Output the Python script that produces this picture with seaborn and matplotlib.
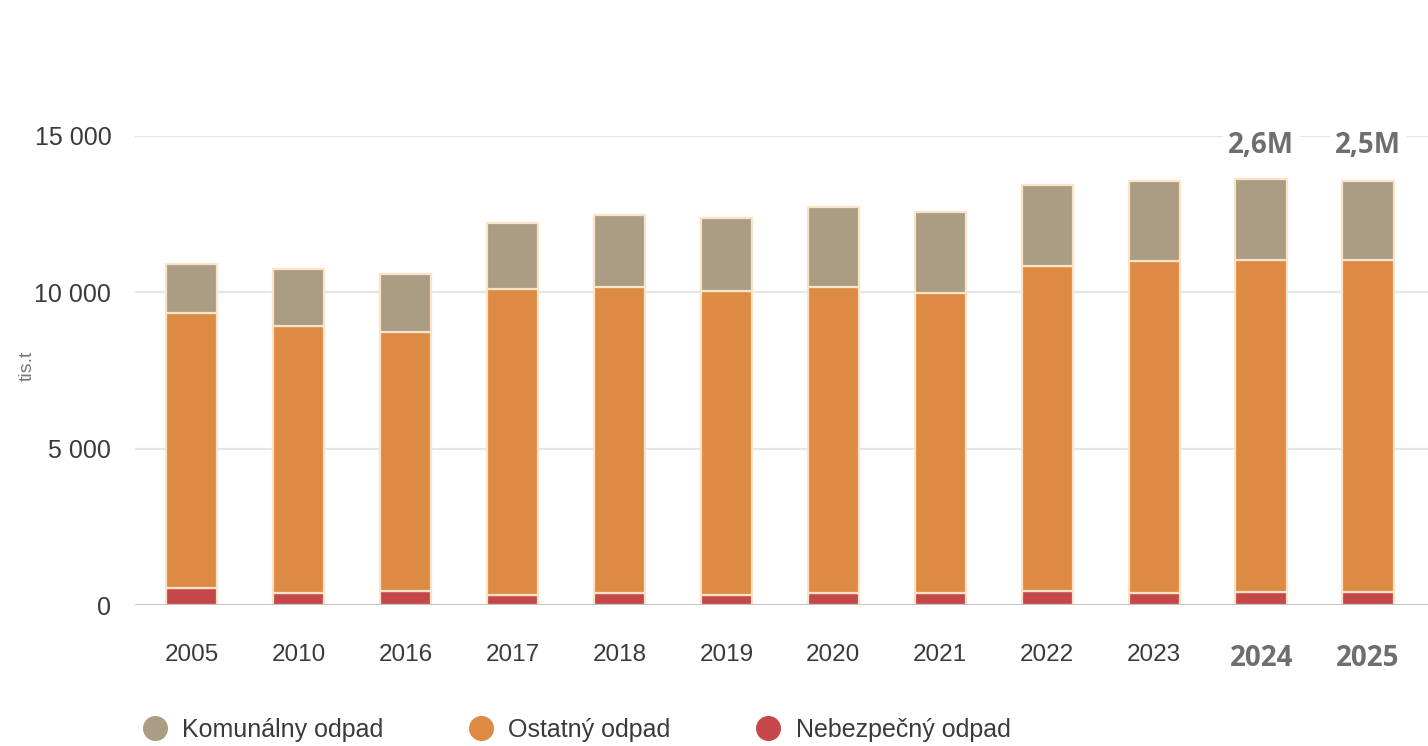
import numpy as np
import pandas as pd
import matplotlib
matplotlib.use("Agg")
import matplotlib.pyplot as plt
from matplotlib.lines import Line2D
import seaborn as sns

# data (tis. t)
years = ["2005", "2010", "2016", "2017", "2018", "2019", "2020", "2021", "2022", "2023", "2024", "2025"]
nebezpecny = [540, 395, 457, 320, 373, 320, 395, 373, 457, 373, 400, 400]
ostatny = [8798, 8538, 8283, 9785, 9807, 9732, 9785, 9597, 10393, 10637, 10640, 10630]
komunalny = [1567, 1812, 1855, 2101, 2292, 2314, 2560, 2610, 2580, 2550, 2580, 2530]
yticks = [0, 5000, 10000, 15000]
ytick_labels = ["0", "5 000", "10 000", "15 000"]
notes = {"2024": "2,6M", "2025": "2,5M"}

c_kom = "#ab9c84"
c_ost = "#dd8a45"
c_neb = "#c4474a"
sep = "#fbe3c8"

df = pd.DataFrame({"rok": years, "neb": nebezpecny, "ost": ostatny, "kom": komunalny})
df["b_ost"] = df["neb"]
df["b_kom"] = df["neb"] + df["ost"]

sns.set_style("white")
plt.rcParams["font.family"] = ["Liberation Sans", "DejaVu Sans"]

fig = plt.figure(figsize=(14.28, 7.46), dpi=100)
ax = fig.add_axes([0.0945, 0.189, 0.9055, 0.6287])

w = 0.48
kw = dict(x="rok", width=w, saturation=1, edgecolor=sep, linewidth=1.6, ax=ax, zorder=3)
sns.barplot(data=df, y="neb", color=c_neb, **kw)
sns.barplot(data=df, y="ost", bottom=df["b_ost"], color=c_ost, **kw)
sns.barplot(data=df, y="kom", bottom=df["b_kom"], color=c_kom, **kw)

ax.set_xlim(-0.53, 11.56)
ax.set_ylim(0, 15000)
ax.set_yticks(yticks)
ax.set_yticklabels(ytick_labels)
for y in yticks[1:]:
    ax.axhline(y, color="#e6e6e6", lw=1.6, zorder=1)
ax.axhline(0, color="#bdbdbd", lw=2, zorder=4)
sns.despine(ax=ax, left=True, bottom=True, top=True, right=True)
ax.tick_params(axis="both", length=0)
ax.tick_params(axis="y", pad=17, labelsize=18, labelcolor="#3a3a3a")
ax.tick_params(axis="x", pad=28, labelsize=17.5, labelcolor="#3a3a3a")
ax.set_xlabel("")
ax.set_ylabel("tis.t", fontsize=14, color="#777777")
ax.yaxis.set_label_coords(-0.077, 0.51)

# highlighted years
for lab in ax.get_xticklabels():
    if lab.get_text() in notes:
        lab.set_fontfamily(["Open Sans", "DejaVu Sans"])
        lab.set_fontweight("bold")
        lab.set_fontsize(20)
        lab.set_color("#6e6e6e")

for i, yr in enumerate(years):
    if yr in notes:
        ax.text(i, 14700, notes[yr], ha="center", va="center", fontsize=20,
                fontweight="bold", color="#6e6e6e", family=["Open Sans", "DejaVu Sans"],
                bbox=dict(facecolor="white", edgecolor="none", pad=4), zorder=5, clip_on=False)

handles = [Line2D([], [], marker="o", ls="", ms=17, color=c) for c in (c_kom, c_ost, c_neb)]
fig.legend(handles, ["Komunálny odpad", "Ostatný odpad", "Nebezpečný odpad"],
           loc="center left", bbox_to_anchor=(0.075, 0.022), ncol=3, frameon=False,
           fontsize=18, handletextpad=0.1, columnspacing=2.9, labelcolor="#3a3a3a")

fig.savefig("out.png", dpi=100)
